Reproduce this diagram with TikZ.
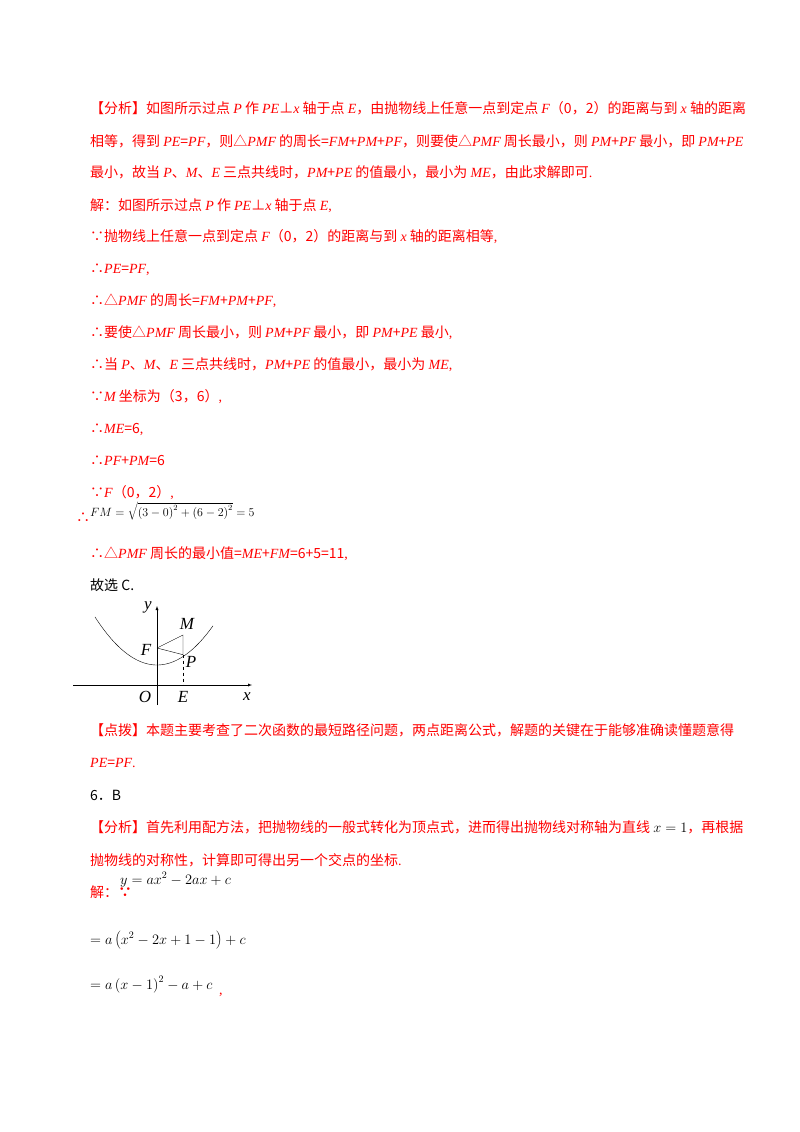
\documentclass[tikz,border=0pt]{standalone}
\usepackage{fontspec}
\setmainfont{Noto Sans CJK SC}
\newfontfamily\tm{Liberation Serif}
\newcommand\I[1]{{\tm\itshape #1}}
\newcommand\R[1]{{\tm #1}}
\begin{document}
\begin{tikzpicture}[x=1pt,y=-1pt,
  ln/.style={anchor=base west,inner sep=0pt,text=red,font=\fontsize{14}{14}\selectfont},
  lb/.style={ln,text=black},
  lab/.style={inner sep=0pt,font=\fontsize{17}{17}\selectfont\tm\itshape}]
\useasboundingbox (0,0) rectangle (800,1132);
\node[ln] (l1) at (90,113) {【分析】如图所示过点 \I{P} 作 \I{PE}⊥\I{x} 轴于点 \I{E}，由抛物线上任意一点到定点 \I{F}（0，2）的距离与到 \I{x} 轴的距离};
\node[ln] (l2) at (90,146) {相等，得到 \I{PE}=\I{PF}，则△\I{PMF} 的周长=\I{FM}+\I{PM}+\I{PF}，则要使△\I{PMF} 周长最小，则 \I{PM}+\I{PF} 最小，即 \I{PM}+\I{PE}};
\node[ln] (l3) at (90,177) {最小，故当 \I{P}、\I{M}、\I{E} 三点共线时，\I{PM}+\I{PE} 的值最小，最小为 \I{ME}，由此求解即可\R{.}};
\node[ln] (l4) at (90,210) {解：如图所示过点 \I{P} 作 \I{PE}⊥\I{x} 轴于点 \I{E}\R{,}};
\node[ln] (l5) at (90,241) {∵抛物线上任意一点到定点 \I{F}（0，2）的距离与到 \I{x} 轴的距离相等\R{,}};
\node[ln] (l6) at (90,273) {∴\I{PE}=\I{PF}\R{,}};
\node[ln] (l7) at (90,305) {∴△\I{PMF} 的周长=\I{FM}+\I{PM}+\I{PF}\R{,}};
\node[ln] (l8) at (90,337) {∴要使△\I{PMF} 周长最小，则 \I{PM}+\I{PF} 最小，即 \I{PM}+\I{PE} 最小\R{,}};
\node[ln] (l9) at (90,369) {∴当 \I{P}、\I{M}、\I{E} 三点共线时，\I{PM}+\I{PE} 的值最小，最小为 \I{ME}\R{,}};
\node[ln] (l10) at (90,401) {∵\I{M} 坐标为（3，6）\R{,}};
\node[ln] (l11) at (90,433) {∴\I{ME}=6\R{,}};
\node[ln] (l12) at (90,465) {∴\I{PF}+\I{PM}=6};
\node[ln] (l13) at (90,497) {∵\I{F}（0，2）\R{,}};
\node[ln] (l14) at (76,522) {∴};
\node[lb] (f14) at (90,516) {\fontsize{12}{12}\selectfont$FM=\sqrt{\left(3-0\right)^2+\left(6-2\right)^2}=5$};
\node[ln] (l15) at (90,558) {∴△\I{PMF} 周长的最小值=\I{ME}+\I{FM}=6+5=11\R{,}};
\node[lb] (l16) at (90,590) {故选 C.};
% figure
\coordinate (O) at (157,685);
\coordinate (F) at (157,648);
\coordinate (M) at (183,635);
\coordinate (P) at (183,654.7);
\coordinate (E) at (183,685);
\draw[-latex] (73,685) -- (252,685);
\draw[-latex] (157,705) -- (157,606);
\draw[domain=95:213,samples=60,smooth] plot (\x,{665-0.0125*(\x-157)*(\x-157)});
\draw (F) -- (M) -- (P) -- (F);
\draw[dashed] (P) -- (E);
\node[lab] (ly) at (148,607) {y};
\node[lab] (lM) at (187,624) {M};
\node[lab] (lF) at (146,650) {F};
\node[lab] (lP) at (191,662) {P};
\node[lab] (lO) at (145,697) {O};
\node[lab] (lE) at (183,697) {E};
\node[lab] (lx) at (247,697) {x};
\node[ln] (l17) at (90,735) {【点拨】本题主要考查了二次函数的最短路径问题，两点距离公式，解题的关键在于能够准确读懂题意得};
\node[ln] (l18) at (90,767) {\I{PE}=\I{PF}\R{.}};
\node[lb] (l19) at (90,800) {6．B};
\node[ln] (l20) at (90,832) {【分析】首先利用配方法，把抛物线的一般式转化为顶点式，进而得出抛物线对称轴为直线 \textcolor{black}{$x=1$}，再根据};
\node[ln] (l21) at (90,865) {抛物线的对称性，计算即可得出另一个交点的坐标\R{.}};
\node[ln] (l22) at (90,897) {解：\textbf{∵}};
\node[lb] (f22) at (120,884) {$y=ax^2-2ax+c$};
\node[lb] (f23) at (90,944) {$=a\left(x^2-2x+1-1\right)+c$};
\node[lb] (f24) at (90,989) {$=a\left(x-1\right)^2-a+c$};
\node[ln] (l24) at (219,994) {\R{,}};
\end{tikzpicture}
\end{document}
